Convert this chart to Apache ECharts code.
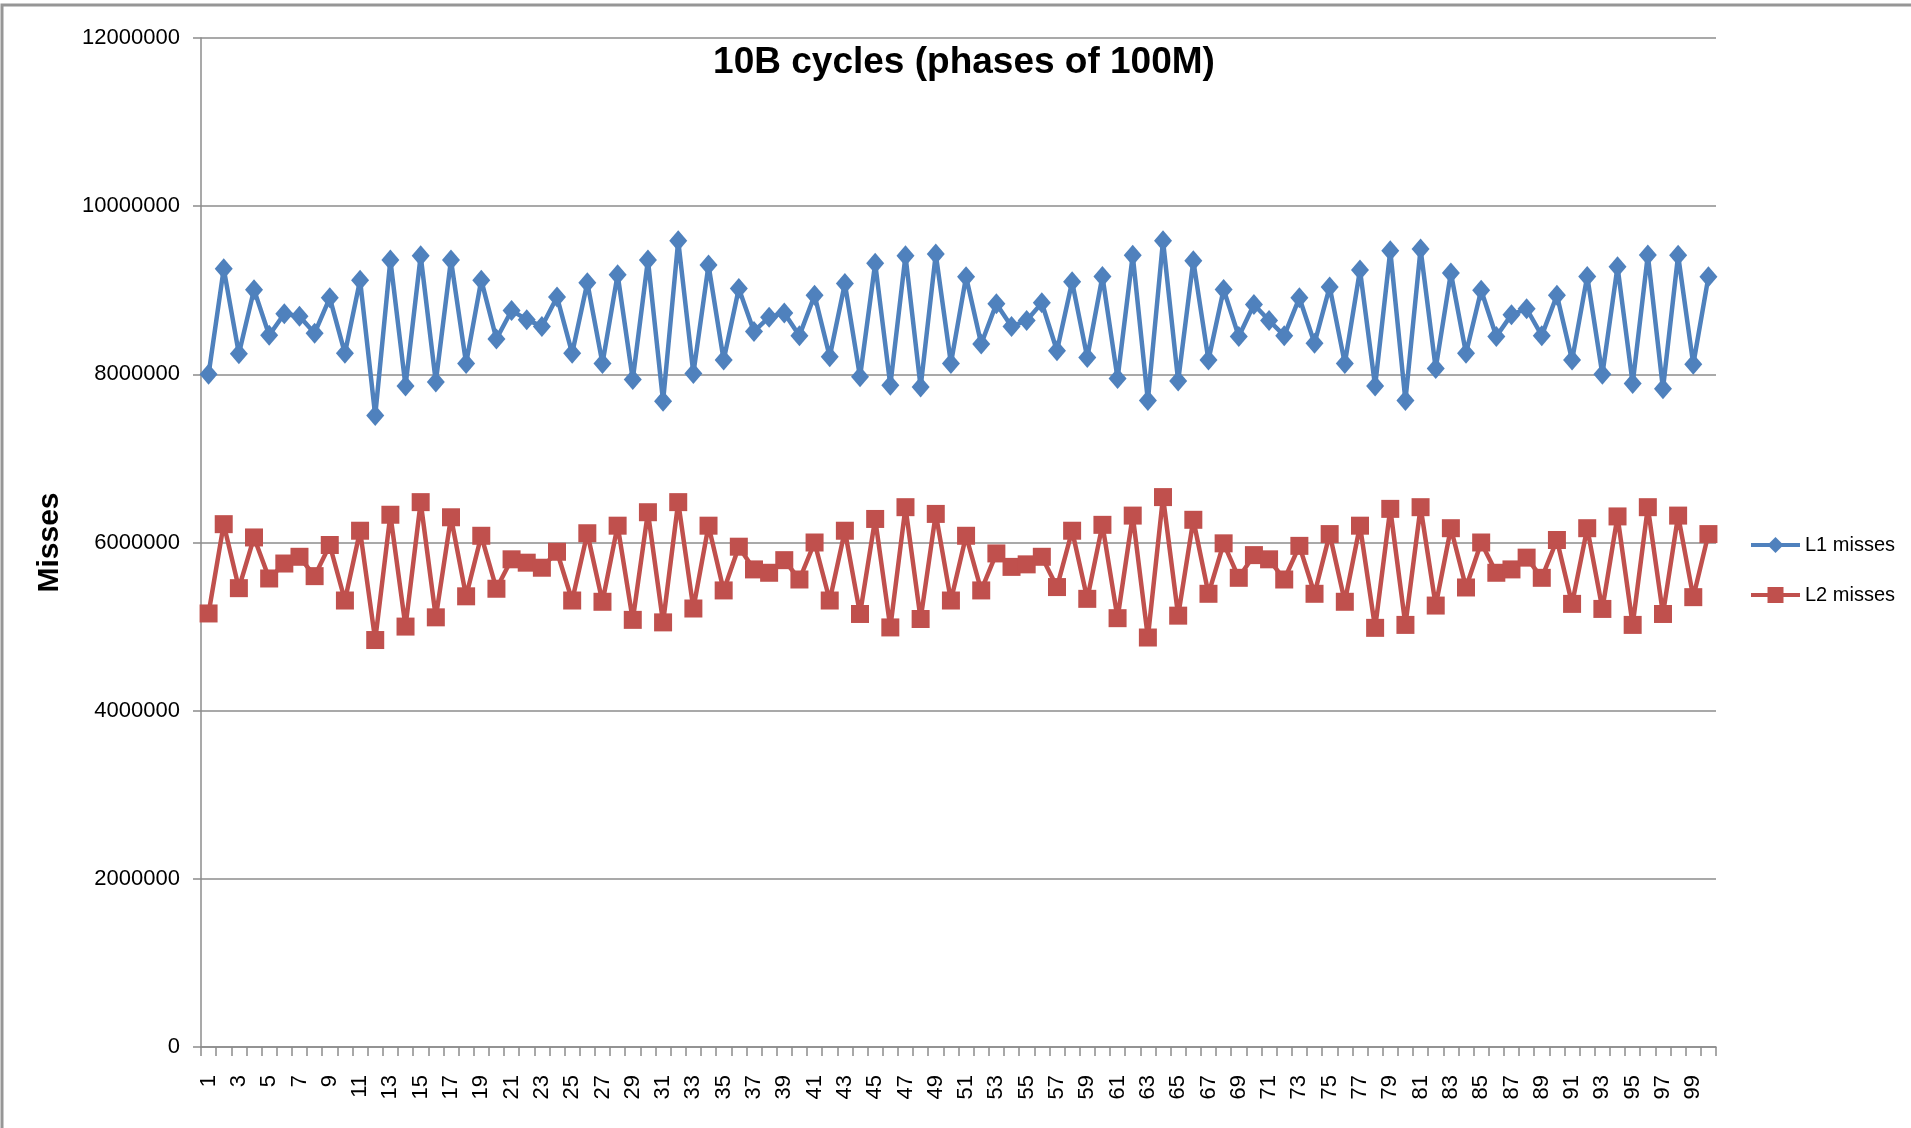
<!DOCTYPE html>
<html>
<head>
<meta charset="utf-8">
<script src="https://cdn.jsdelivr.net/npm/echarts@6/dist/echarts.min.js"></script>
<style>
html,body{margin:0;padding:0;background:#fff;}
#chart{width:1911px;height:1128px;}
</style>
</head>
<body>
<div id="chart"></div>
<script>
const titleText = '10B cycles (phases of 100M)';
const yAxisName = 'Misses';
const seriesNames = ['L1 misses', 'L2 misses'];
const categories = [];
for (let i = 1; i <= 100; i++) categories.push(String(i));

const l1Misses = [
  8000000, 9256000, 8246000, 9007000, 8464000, 8720000, 8690000, 8490000, 8910000, 8250000,
  9120000, 7510000, 9360000, 7860000, 9410000, 7910000, 9360000, 8130000, 9120000, 8420000,
  8760000, 8650000, 8570000, 8920000, 8250000, 9090000, 8130000, 9185000, 7940000, 9360000,
  7680000, 9590000, 8010000, 9300000, 8170000, 9020000, 8510000, 8680000, 8730000, 8460000,
  8940000, 8210000, 9080000, 7970000, 9320000, 7870000, 9410000, 7850000, 9430000, 8130000,
  9160000, 8360000, 8840000, 8570000, 8640000, 8850000, 8280000, 9100000, 8200000, 9165000,
  7950000, 9415000, 7690000, 9590000, 7920000, 9350000, 8170000, 9010000, 8450000, 8830000,
  8640000, 8460000, 8910000, 8370000, 9040000, 8130000, 9240000, 7860000, 9470000, 7690000,
  9490000, 8070000, 9205000, 8250000, 9000000, 8450000, 8710000, 8780000, 8460000, 8940000,
  8170000, 9165000, 8000000, 9280000, 7890000, 9420000, 7830000, 9415000, 8120000, 9160000
];
const l2Misses = [
  5156000, 6218000, 5457000, 6060000, 5572000, 5750000, 5830000, 5600000, 5970000, 5310000,
  6140000, 4840000, 6330000, 5000000, 6480000, 5110000, 6300000, 5360000, 6080000, 5450000,
  5800000, 5760000, 5700000, 5890000, 5310000, 6110000, 5295000, 6200000, 5080000, 6360000,
  5050000, 6480000, 5215000, 6200000, 5430000, 5950000, 5680000, 5640000, 5790000, 5560000,
  6000000, 5310000, 6140000, 5150000, 6280000, 4990000, 6420000, 5090000, 6340000, 5310000,
  6080000, 5430000, 5870000, 5710000, 5740000, 5830000, 5470000, 6140000, 5330000, 6210000,
  5100000, 6320000, 4870000, 6540000, 5130000, 6270000, 5390000, 5990000, 5580000, 5850000,
  5800000, 5560000, 5960000, 5390000, 6100000, 5295000, 6200000, 4985000, 6400000, 5020000,
  6420000, 5250000, 6170000, 5465000, 6000000, 5640000, 5680000, 5820000, 5580000, 6030000,
  5270000, 6170000, 5210000, 6310000, 5020000, 6420000, 5150000, 6320000, 5350000, 6100000
];
const yMin = 0, yMax = 12000000, yStep = 2000000;

const FONT = '"Liberation Sans", Arial, sans-serif';
const BLUE = '#4F81BD', RED = '#C0504D', GRID = '#8c8c8c';

const chart = echarts.init(document.getElementById('chart'), null, {renderer: 'canvas'});
chart.setOption({
  backgroundColor: '#ffffff',
  animation: false,
  graphic: [{
    type: 'rect', silent: true, z: -1,
    shape: {x: 2, y: 5, width: 1940, height: 1200},
    style: {fill: 'none', stroke: '#969696', lineWidth: 3}
  }],
  title: {
    text: titleText,
    left: 959, top: 39, textAlign: 'center',
    textStyle: {fontFamily: FONT, fontWeight: 'bold', fontSize: 37, color: '#000'}
  },
  legend: {
    orient: 'vertical',
    left: 1744, top: 530,
    itemWidth: 49, itemHeight: 20, itemGap: 30,
    lineStyle: {width: 4},
    textStyle: {fontFamily: FONT, fontSize: 20, lineHeight: 20, color: '#000'},
    data: seriesNames
  },
  grid: {left: 201, top: 38, right: 195, bottom: 81, containLabel: false},
  xAxis: {
    type: 'category',
    data: categories,
    boundaryGap: true,
    axisLine: {show: true, lineStyle: {color: GRID, width: 1.5}},
    axisTick: {show: true, interval: 0, length: 9, lineStyle: {color: GRID, width: 1.5}},
    axisLabel: {interval: 1, rotate: 90, margin: 28, fontFamily: FONT, fontSize: 22, color: '#000'},
    splitLine: {show: false}
  },
  yAxis: {
    type: 'value',
    min: yMin, max: yMax, interval: yStep,
    name: yAxisName,
    nameLocation: 'middle', nameRotate: 90, nameGap: 136,
    nameTextStyle: {fontFamily: FONT, fontWeight: 'bold', fontSize: 30, color: '#000'},
    axisLine: {show: true, lineStyle: {color: GRID, width: 1.5}},
    axisTick: {show: true, length: 8, lineStyle: {color: GRID, width: 1.5}},
    axisLabel: {margin: 21, fontFamily: FONT, fontSize: 22, color: '#000',
      formatter: function (v) { return String(v); }},
    splitLine: {show: true, lineStyle: {color: GRID, width: 1.5}}
  },
  series: [
    {
      name: seriesNames[0], type: 'line', data: l1Misses,
      symbol: 'diamond', symbolSize: [18, 21], showAllSymbol: true,
      lineStyle: {color: BLUE, width: 4.5},
      itemStyle: {color: BLUE},
      z: 3
    },
    {
      name: seriesNames[1], type: 'line', data: l2Misses,
      symbol: 'rect', symbolSize: 18, showAllSymbol: true,
      lineStyle: {color: RED, width: 4.5},
      itemStyle: {color: RED},
      z: 2
    }
  ]
});
</script>
</body>
</html>
